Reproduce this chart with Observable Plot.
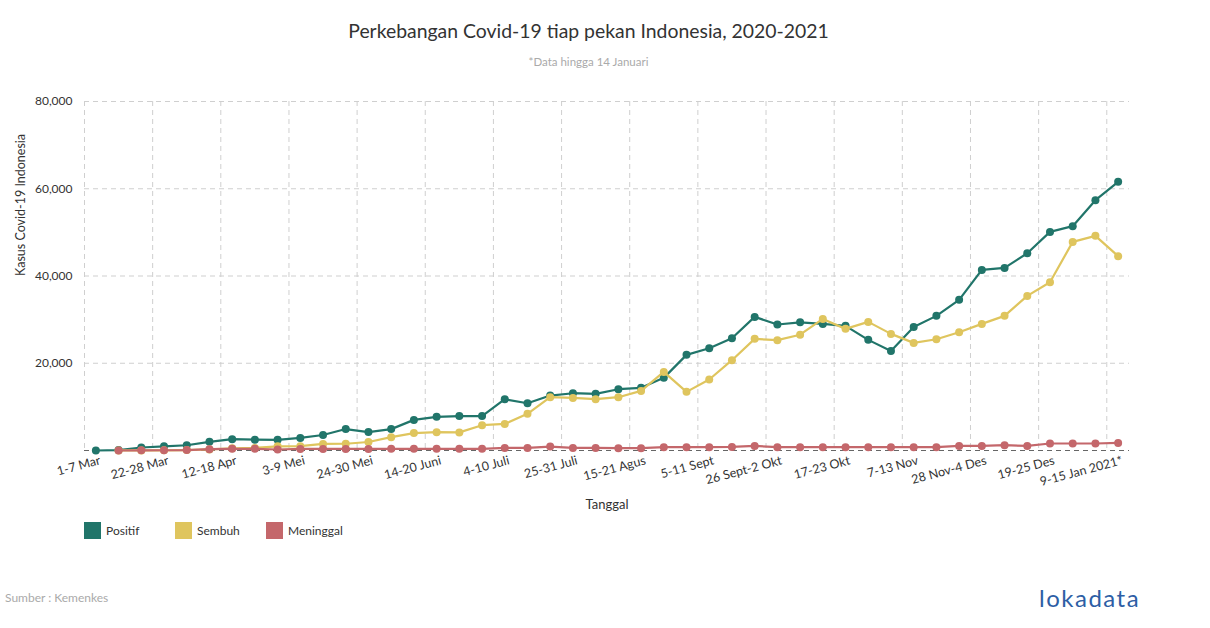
<!DOCTYPE html>
<html>
<head>
<meta charset="utf-8">
<script src="https://cdn.jsdelivr.net/npm/d3@7"></script>
<script src="https://cdn.jsdelivr.net/npm/@observablehq/plot@0.6"></script>
<style>
  html, body { margin: 0; padding: 0; background: #fff; }
  body { width: 1210px; height: 628px; position: relative; overflow: hidden; font-family: Lato, "Noto Sans", sans-serif; color: #333; }
  #title { position: absolute; top: 19px; left: 0; width: 1177px; text-align: center; font-size: 19.4px; color: #333; }
  #subtitle { position: absolute; top: 55px; left: 0; width: 1177px; text-align: center; font-size: 11.5px; color: #aaa; }
  #chart { position: absolute; top: 85px; left: 0; }
  #legend { position: absolute; top: 522px; left: 84px; display: flex; font-size: 12px; color: #333; }
  .item { display: flex; align-items: center; height: 17px; }
  .sw { width: 17px; height: 17px; margin-right: 5px; }
  #source { position: absolute; top: 590px; left: 5px; font-size: 12px; color: #aaa; }
  #logo { position: absolute; top: 583px; left: 1039px; font-size: 24px; color: #2d5ea5; letter-spacing: 1.5px; }
</style>
</head>
<body>
<div id="title">Perkebangan Covid-19 tiap pekan Indonesia, 2020-2021</div>
<div id="subtitle">*Data hingga 14 Januari</div>
<div id="chart"></div>
<div id="legend"></div>
<div id="source">Sumber : Kemenkes</div>
<div id="logo">lokadata</div>
<script>
const weeks = [
  "1-7 Mar", "8-14 Mar", "15-21 Mar", "22-28 Mar", "29 Mar-4 Apr", "5-11 Apr",
  "12-18 Apr", "19-25 Apr", "26 Apr-2 Mei", "3-9 Mei", "10-16 Mei", "17-23 Mei",
  "24-30 Mei", "31 Mei-6 Juni", "7-13 Juni", "14-20 Juni", "21-27 Juni", "28 Juni-3 Juli",
  "4-10 Juli", "11-17 Juli", "18-24 Juli", "25-31 Juli", "1-7 Agus", "8-14 Agus",
  "15-21 Agus", "22-28 Agus", "29 Agus-4 Sept", "5-11 Sept", "12-18 Sept", "19-25 Sept",
  "26 Sept-2 Okt", "3-9 Okt", "10-16 Okt", "17-23 Okt", "24-30 Okt", "31 Okt-6 Nov",
  "7-13 Nov", "14-20 Nov", "21-27 Nov", "28 Nov-4 Des", "5-11 Des", "12-18 Des",
  "19-25 Des", "26 Des-1 Jan", "2-8 Jan", "9-15 Jan 2021*"
];
const positif = [
  2, 90, 690, 950, 1200, 1980, 2590, 2480, 2440, 2890, 3560, 4920,
  4230, 4900, 7020, 7710, 7900, 7880, 11760, 10840, 12600, 13130, 12980, 14050,
  14360, 16650, 21920, 23450, 25740, 30630, 28880, 29380, 29020, 28570, 25360, 22830,
  28330, 30860, 34530, 41400, 41860, 45220, 50110, 51420, 57380, 61580
];
const sembuh = [
  null, 10, 20, 30, 100, 250, 500, 600, 950, 990, 1500, 1550,
  1950, 3050, 4000, 4200, 4150, 5800, 6100, 8400, 12220, 12060, 11760, 12220,
  13660, 18020, 13440, 16270, 20700, 25590, 25290, 26540, 30170, 27880, 29480, 26730,
  24670, 25510, 27120, 29020, 30860, 35440, 38580, 47820, 49200, 44540
];
const meninggal = [
  null, 5, 40, 60, 100, 300, 380, 380, 230, 370, 370, 370,
  370, 380, 380, 380, 380, 380, 600, 600, 900, 600, 600, 530,
  530, 760, 760, 760, 830, 1060, 760, 760, 760, 760, 760, 760,
  760, 760, 1060, 1060, 1210, 1060, 1600, 1600, 1600, 1740
];
const seriesNames = ["Positif", "Sembuh", "Meninggal"];
const seriesColors = ["#21756a", "#dfc55e", "#c4676b"];
const yTicks = [20000, 40000, 60000, 80000];

const seriesValues = [positif, sembuh, meninggal];
const rows = seriesNames.map((name, s) =>
  weeks.map((w, i) => ({week: w, value: seriesValues[s][i], series: name}))
);
const tickWeeks = weeks.filter((d, i) => i % 3 === 0);

const W = 1210, H = 436, mL = 84, mR = 81, mT = 16, mB = 71;
const step = (W - mL - mR) / weeks.length;

const marks = [
  Plot.ruleY(yTicks, {stroke: "#cfcfcf", strokeDasharray: "5,4", strokeWidth: 1}),
  Plot.ruleX(tickWeeks, {x: d => d, dx: -step / 2, stroke: "#cfcfcf", strokeDasharray: "5,4", strokeWidth: 1}),
  Plot.ruleY([0], {stroke: "#666", strokeDasharray: "5,4", strokeWidth: 1})
];
rows.forEach((r, s) => {
  marks.push(Plot.line(r, {x: "week", y: "value", stroke: seriesColors[s], strokeWidth: 2.2}));
  marks.push(Plot.dot(r, {x: "week", y: "value", fill: seriesColors[s], r: 4}));
});
marks.push(Plot.text(tickWeeks, {x: d => d, frameAnchor: "bottom", textAnchor: "end", lineAnchor: "top", rotate: -15, dy: 5, dx: 3, fontSize: 12.5, fill: "#333"}));
marks.push(Plot.text(["Tanggal"], {frameAnchor: "bottom", lineAnchor: "top", dy: 49, fontSize: 13, fill: "#333"}));
marks.push(Plot.text(["Kasus Covid-19 Indonesia"], {frameAnchor: "left", rotate: -90, dx: -64, fontSize: 12.5, fill: "#333"}));

const chart = Plot.plot({
  width: W, height: H,
  marginLeft: mL, marginRight: mR, marginTop: mT, marginBottom: mB,
  style: {fontFamily: "Lato, 'Noto Sans', sans-serif", fontSize: "12px", color: "#333", background: "transparent", overflow: "visible"},
  x: {type: "point", domain: weeks, padding: 0.5, axis: null},
  y: {domain: [0, 80000], ticks: yTicks, tickFormat: d3.format(","), tickSize: 0, tickPadding: 12, label: null},
  marks
});
document.getElementById("chart").appendChild(chart);

const legend = document.getElementById("legend");
seriesNames.forEach((n, i) => {
  const it = document.createElement("div");
  it.className = "item";
  it.style.width = "91px";
  it.innerHTML = `<div class="sw" style="background:${seriesColors[i]}"></div><span>${n}</span>`;
  legend.appendChild(it);
});
</script>
</body>
</html>
